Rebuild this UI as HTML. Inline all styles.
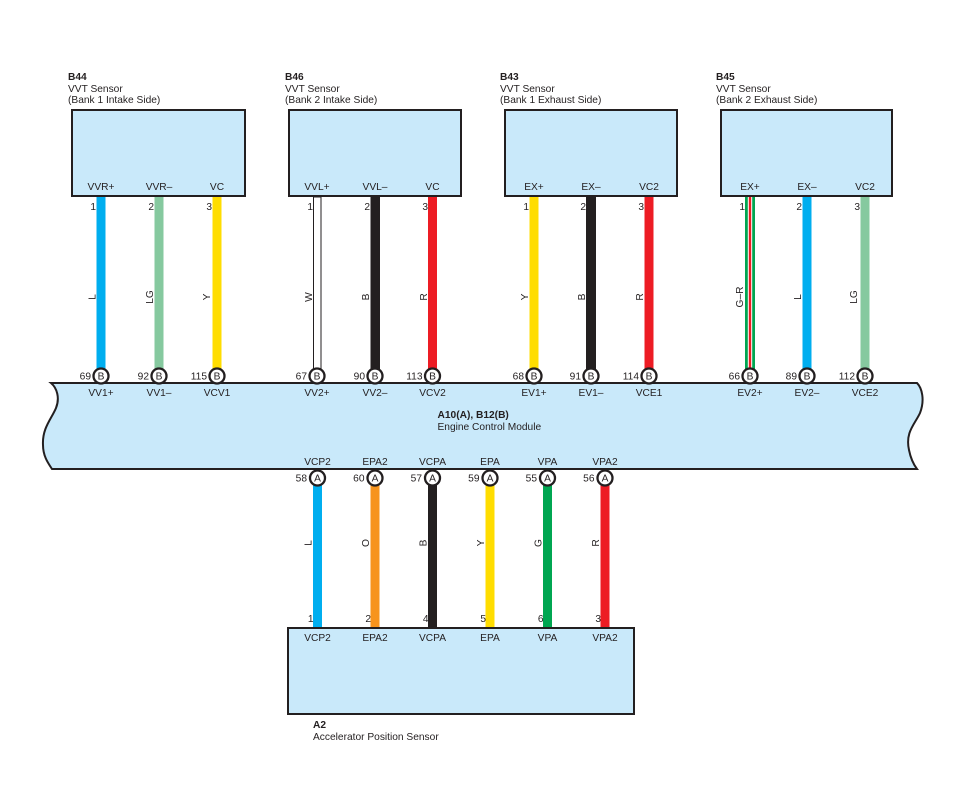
<!DOCTYPE html>
<html><head><meta charset="utf-8"><style>
html,body{margin:0;padding:0;background:#fff;}
svg{display:block;}
text{font-family:"Liberation Sans",Arial,sans-serif;font-size:10.2px;fill:#231f20;}
.b{font-weight:bold;}
.m{text-anchor:middle;}
.e{text-anchor:end;}
</style></head><body>
<svg width="978" height="786" viewBox="0 0 978 786" xmlns="http://www.w3.org/2000/svg">
<rect width="978" height="786" fill="#fff"/>

<!-- Headers -->
<text x="68" y="80" class="b">B44</text>
<text x="68" y="92">VVT Sensor</text>
<text x="68" y="103">(Bank 1 Intake Side)</text>
<text x="285" y="80" class="b">B46</text>
<text x="285" y="92">VVT Sensor</text>
<text x="285" y="103">(Bank 2 Intake Side)</text>
<text x="500" y="80" class="b">B43</text>
<text x="500" y="92">VVT Sensor</text>
<text x="500" y="103">(Bank 1 Exhaust Side)</text>
<text x="716" y="80" class="b">B45</text>
<text x="716" y="92">VVT Sensor</text>
<text x="716" y="103">(Bank 2 Exhaust Side)</text>

<!-- Top boxes -->
<g fill="#c9e9fa" stroke="#231f20" stroke-width="2">
<rect x="72" y="110" width="173" height="86"/>
<rect x="289" y="110" width="172" height="86"/>
<rect x="505" y="110" width="172" height="86"/>
<rect x="721" y="110" width="171" height="86"/>
</g>

<!-- Wires top -->
<g>
<rect x="96.5" y="197" width="9" height="172" fill="#00aeef"/>
<rect x="154.5" y="197" width="9" height="172" fill="#86c99f"/>
<rect x="212.5" y="197" width="9" height="172" fill="#ffdd00"/>
<rect x="313.5" y="197" width="7.5" height="172" fill="#fff" stroke="#231f20" stroke-width="1"/>
<rect x="370.5" y="197" width="9.5" height="172" fill="#231f20"/>
<rect x="428" y="197" width="9" height="172" fill="#ed1c24"/>
<rect x="529.5" y="197" width="9" height="172" fill="#ffdd00"/>
<rect x="586" y="197" width="10" height="172" fill="#231f20"/>
<rect x="644.5" y="197" width="9" height="172" fill="#ed1c24"/>
<rect x="745" y="197" width="10" height="172" fill="#00a651"/>
<rect x="747.8" y="197" width="4.4" height="172" fill="#fff"/>
<rect x="748.8" y="197" width="2.4" height="172" fill="#ed1c24"/>
<rect x="802.5" y="197" width="9" height="172" fill="#00aeef"/>
<rect x="860.5" y="197" width="9" height="172" fill="#86c99f"/>
</g>

<!-- Box pin labels -->
<text x="101" y="190" class="m">VVR+</text>
<text x="159" y="190" class="m">VVR–</text>
<text x="217" y="190" class="m">VC</text>
<text x="317" y="190" class="m">VVL+</text>
<text x="375" y="190" class="m">VVL–</text>
<text x="432.5" y="190" class="m">VC</text>
<text x="534" y="190" class="m">EX+</text>
<text x="591" y="190" class="m">EX–</text>
<text x="649" y="190" class="m">VC2</text>
<text x="750" y="190" class="m">EX+</text>
<text x="807" y="190" class="m">EX–</text>
<text x="865" y="190" class="m">VC2</text>

<!-- pin numbers top -->
<text x="96" y="210" class="e">1</text>
<text x="154" y="210" class="e">2</text>
<text x="212" y="210" class="e">3</text>
<text x="313" y="210" class="e">1</text>
<text x="370" y="210" class="e">2</text>
<text x="428" y="210" class="e">3</text>
<text x="529" y="210" class="e">1</text>
<text x="586" y="210" class="e">2</text>
<text x="644" y="210" class="e">3</text>
<text x="745" y="210" class="e">1</text>
<text x="802" y="210" class="e">2</text>
<text x="860" y="210" class="e">3</text>

<!-- wire color labels top -->
<g>
<text transform="translate(95.5,297) rotate(-90)" class="m">L</text>
<text transform="translate(153,297) rotate(-90)" class="m">LG</text>
<text transform="translate(210,297) rotate(-90)" class="m">Y</text>
<text transform="translate(312,297) rotate(-90)" class="m">W</text>
<text transform="translate(369,297) rotate(-90)" class="m">B</text>
<text transform="translate(427,297) rotate(-90)" class="m">R</text>
<text transform="translate(528,297) rotate(-90)" class="m">Y</text>
<text transform="translate(585,297) rotate(-90)" class="m">B</text>
<text transform="translate(643,297) rotate(-90)" class="m">R</text>
<text transform="translate(743,297) rotate(-90)" class="m">G–R</text>
<text transform="translate(801,297) rotate(-90)" class="m">L</text>
<text transform="translate(857,297) rotate(-90)" class="m">LG</text>
</g>

<!-- ECM -->
<path d="M51,383 L917,383 C922,388 925,400 920,413 C915,424 905,432 909,450 C911,460 914,465 917,469 L52,469 C48,463 43,456 43,445 C42,428 52,418 56,408 C60,398 57,388 51,383 Z" fill="#c9e9fa" stroke="#231f20" stroke-width="2"/>

<text x="437.5" y="418" class="b">A10(A), B12(B)</text>
<text x="437.5" y="430">Engine Control Module</text>

<!-- top circles -->
<g fill="#fff" stroke="#231f20" stroke-width="2.3">
<circle cx="101" cy="376" r="7.5"/>
<circle cx="159" cy="376" r="7.5"/>
<circle cx="217" cy="376" r="7.5"/>
<circle cx="317" cy="376" r="7.5"/>
<circle cx="375" cy="376" r="7.5"/>
<circle cx="432.5" cy="376" r="7.5"/>
<circle cx="534" cy="376" r="7.5"/>
<circle cx="591" cy="376" r="7.5"/>
<circle cx="649" cy="376" r="7.5"/>
<circle cx="750" cy="376" r="7.5"/>
<circle cx="807" cy="376" r="7.5"/>
<circle cx="865" cy="376" r="7.5"/>
</g>
<g>
<text x="101" y="379.5" class="m">B</text>
<text x="159" y="379.5" class="m">B</text>
<text x="217" y="379.5" class="m">B</text>
<text x="317" y="379.5" class="m">B</text>
<text x="375" y="379.5" class="m">B</text>
<text x="432.5" y="379.5" class="m">B</text>
<text x="534" y="379.5" class="m">B</text>
<text x="591" y="379.5" class="m">B</text>
<text x="649" y="379.5" class="m">B</text>
<text x="750" y="379.5" class="m">B</text>
<text x="807" y="379.5" class="m">B</text>
<text x="865" y="379.5" class="m">B</text>
</g>
<text x="91" y="379.5" class="e">69</text>
<text x="149" y="379.5" class="e">92</text>
<text x="207" y="379.5" class="e">115</text>
<text x="307" y="379.5" class="e">67</text>
<text x="365" y="379.5" class="e">90</text>
<text x="422.5" y="379.5" class="e">113</text>
<text x="524" y="379.5" class="e">68</text>
<text x="581" y="379.5" class="e">91</text>
<text x="639" y="379.5" class="e">114</text>
<text x="740" y="379.5" class="e">66</text>
<text x="797" y="379.5" class="e">89</text>
<text x="855" y="379.5" class="e">112</text>

<!-- ECM top labels -->
<text x="101" y="396" class="m">VV1+</text>
<text x="159" y="396" class="m">VV1–</text>
<text x="217" y="396" class="m">VCV1</text>
<text x="317" y="396" class="m">VV2+</text>
<text x="375" y="396" class="m">VV2–</text>
<text x="432.5" y="396" class="m">VCV2</text>
<text x="534" y="396" class="m">EV1+</text>
<text x="591" y="396" class="m">EV1–</text>
<text x="649" y="396" class="m">VCE1</text>
<text x="750" y="396" class="m">EV2+</text>
<text x="807" y="396" class="m">EV2–</text>
<text x="865" y="396" class="m">VCE2</text>

<!-- ECM bottom labels -->
<text x="317.5" y="465" class="m">VCP2</text>
<text x="375" y="465" class="m">EPA2</text>
<text x="432.5" y="465" class="m">VCPA</text>
<text x="490" y="465" class="m">EPA</text>
<text x="547.5" y="465" class="m">VPA</text>
<text x="605" y="465" class="m">VPA2</text>

<!-- bottom wires -->
<rect x="313" y="485" width="9" height="142" fill="#00aeef"/>
<rect x="370.5" y="485" width="9" height="142" fill="#f7941d"/>
<rect x="428" y="485" width="9" height="142" fill="#231f20"/>
<rect x="485.5" y="485" width="9" height="142" fill="#ffdd00"/>
<rect x="543" y="485" width="9" height="142" fill="#00a651"/>
<rect x="600.5" y="485" width="9" height="142" fill="#ed1c24"/>

<!-- bottom circles -->
<g fill="#fff" stroke="#231f20" stroke-width="2.3">
<circle cx="317.5" cy="478" r="7.5"/>
<circle cx="375" cy="478" r="7.5"/>
<circle cx="432.5" cy="478" r="7.5"/>
<circle cx="490" cy="478" r="7.5"/>
<circle cx="547.5" cy="478" r="7.5"/>
<circle cx="605" cy="478" r="7.5"/>
</g>
<text x="317.5" y="481.5" class="m">A</text>
<text x="375" y="481.5" class="m">A</text>
<text x="432.5" y="481.5" class="m">A</text>
<text x="490" y="481.5" class="m">A</text>
<text x="547.5" y="481.5" class="m">A</text>
<text x="605" y="481.5" class="m">A</text>
<text x="307" y="481.5" class="e">58</text>
<text x="364.5" y="481.5" class="e">60</text>
<text x="422" y="481.5" class="e">57</text>
<text x="479.5" y="481.5" class="e">59</text>
<text x="537" y="481.5" class="e">55</text>
<text x="594.5" y="481.5" class="e">56</text>

<!-- bottom wire labels -->
<text transform="translate(311.5,543) rotate(-90)" class="m">L</text>
<text transform="translate(369,543) rotate(-90)" class="m">O</text>
<text transform="translate(426.5,543) rotate(-90)" class="m">B</text>
<text transform="translate(484,543) rotate(-90)" class="m">Y</text>
<text transform="translate(541.5,543) rotate(-90)" class="m">G</text>
<text transform="translate(599,543) rotate(-90)" class="m">R</text>

<!-- A2 pin numbers -->
<text x="313.5" y="622" class="e">1</text>
<text x="371" y="622" class="e">2</text>
<text x="428.5" y="622" class="e">4</text>
<text x="486" y="622" class="e">5</text>
<text x="543.5" y="622" class="e">6</text>
<text x="601" y="622" class="e">3</text>

<!-- A2 box -->
<rect x="288" y="628" width="346" height="86" fill="#c9e9fa" stroke="#231f20" stroke-width="2"/>
<text x="317.5" y="641" class="m">VCP2</text>
<text x="375" y="641" class="m">EPA2</text>
<text x="432.5" y="641" class="m">VCPA</text>
<text x="490" y="641" class="m">EPA</text>
<text x="547.5" y="641" class="m">VPA</text>
<text x="605" y="641" class="m">VPA2</text>

<text x="313" y="728" class="b">A2</text>
<text x="313" y="740">Accelerator Position Sensor</text>
</svg>
</body></html>
